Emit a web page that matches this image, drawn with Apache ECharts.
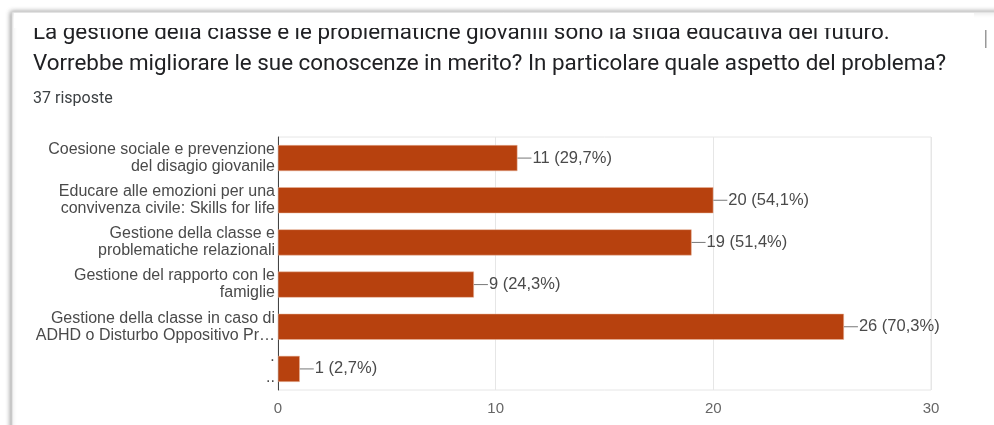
<!DOCTYPE html>
<html>
<head>
<meta charset="utf-8">
<script src="https://cdn.jsdelivr.net/npm/echarts@6/dist/echarts.min.js"></script>
<style>
html,body{margin:0;padding:0;background:#fff;}
#c{width:994px;height:425px;}
</style>
</head>
<body>
<div id="c"></div>
<script>
var titleLine1 = 'La gestione della classe e le problematiche giovanili sono la sfida educativa del futuro.';
var titleLine2 = 'Vorrebbe migliorare le sue conoscenze in merito? In particolare quale aspetto del problema?';
var responsesText = '37 risposte';
var categories = [
  'Coesione sociale e prevenzione\ndel disagio giovanile',
  'Educare alle emozioni per una\nconvivenza civile: Skills for life',
  'Gestione della classe e\nproblematiche relazionali',
  'Gestione del rapporto con le\nfamiglie',
  'Gestione della classe in caso di\nADHD o Disturbo Oppositivo Pr…',
  '·\n..'
];
var counts = [11, 20, 19, 9, 26, 1];
var percents = ['29,7%', '54,1%', '51,4%', '24,3%', '70,3%', '2,7%'];
var xTicks = [0, 10, 20, 30];

var chart = echarts.init(document.getElementById('c'));
chart.setOption({
  animation: false,
  backgroundColor: '#fff',
  graphic: [
    {type: 'rect', shape: {x: 12, y: 12, width: 1010, height: 440},
     style: {fill: '#fff', stroke: '#d6d6d6', lineWidth: 1, shadowBlur: 5, shadowColor: 'rgba(0,0,0,0.4)', shadowOffsetX: -1}, z: -10},
    {type: 'text', left: 33, top: 22,
     style: {text: titleLine1, font: '22.4px Roboto', fill: '#202124'}, z: 1},
    {type: 'rect', shape: {x: 14, y: 13, width: 960, height: 15}, style: {fill: '#fff'}, z: 2},
    {type: 'text', left: 33, top: 53,
     style: {text: titleLine2, font: '22.4px Roboto', fill: '#202124'}, z: 1},
    {type: 'text', left: 33, top: 91,
     style: {text: responsesText, font: '16px Roboto', fill: '#3c4043'}, z: 1},
    {type: 'rect', shape: {x: 985, y: 30, width: 1.5, height: 18}, style: {fill: '#999'}, z: 1}
  ],
  grid: {left: 278, right: 63, top: 137, bottom: 35, show: true, borderColor: '#e6e6e6', borderWidth: 1},
  xAxis: {
    type: 'value', min: 0, max: 30, interval: 10,
    axisLine: {show: false}, axisTick: {show: false},
    splitLine: {show: true, lineStyle: {color: '#e6e6e6', width: 1}},
    axisLabel: {color: '#666', fontSize: 15, fontFamily: 'Arial, Liberation Sans', margin: 11,
      formatter: function (v) { return xTicks.indexOf(v) >= 0 ? String(v) : ''; }}
  },
  yAxis: {
    type: 'category', data: categories, inverse: true,
    axisLine: {show: true, lineStyle: {color: '#444', width: 1}},
    axisTick: {show: false},
    axisLabel: {color: '#4a4a4a', fontSize: 16, fontFamily: 'Arial, Liberation Sans', margin: 3, lineHeight: 17, align: 'right'}
  },
  series: [{
    type: 'bar',
    data: counts,
    barWidth: 26,
    itemStyle: {color: '#b7410e', borderColor: '#e8b49a', borderWidth: 0.5},
    label: {
      show: true, position: 'right', distance: 0,
      formatter: function (p) { return '{l|}{t|' + counts[p.dataIndex] + ' (' + percents[p.dataIndex] + ')}'; },
      rich: {
        l: {width: 14, height: 1, backgroundColor: '#777', verticalAlign: 'middle'},
        t: {color: '#4a4a4a', fontSize: 16.5, fontFamily: 'Arial, Liberation Sans', padding: [0, 0, 0, 1]}
      }
    }
  }]
});
</script>
</body>
</html>
